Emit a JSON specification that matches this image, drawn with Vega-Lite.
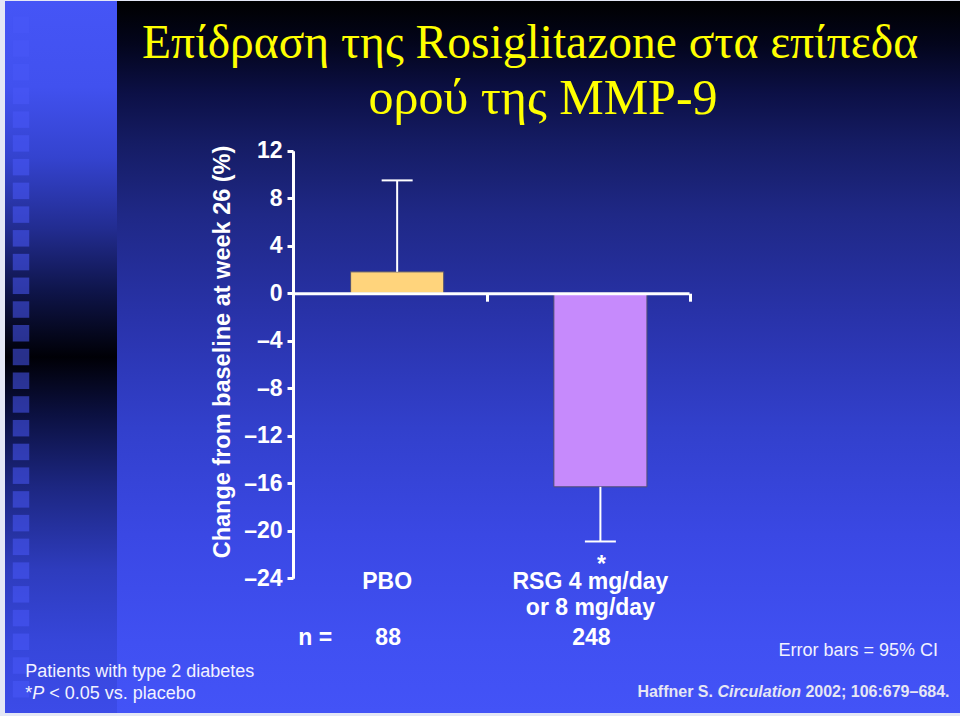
{
  "$schema": "https://vega.github.io/schema/vega-lite/v6.json",
  "padding": {"left": 5, "top": 1, "right": 0, "bottom": 3},
  "background": "#e4e7f6",
  "spacing": 0,
  "bounds": "flush",
  "config": {"font": "Liberation Sans", "view": {"stroke": null}, "axis": {"grid": false}},
  "datasets": {
    "bars": [
      {"group": "PBO", "label": "PBO", "mean": 1.8, "ci_end": 9.5, "n": "88", "sig": ""},
      {"group": "RSG", "label": "RSG 4 mg/day\nor 8 mg/day", "mean": -16.3, "ci_end": -20.9, "n": "248", "sig": "*"}
    ],
    "squares": [
      {"k": 1}, {"k": 2}, {"k": 3}, {"k": 4}, {"k": 5}, {"k": 6}, {"k": 7}, {"k": 8}, {"k": 9}, {"k": 10},
      {"k": 11}, {"k": 12}, {"k": 13}, {"k": 14}, {"k": 15}, {"k": 16}, {"k": 17}, {"k": 18}, {"k": 19}, {"k": 20},
      {"k": 21}, {"k": 22}, {"k": 23}, {"k": 24}, {"k": 25}, {"k": 26}, {"k": 27}, {"k": 28}, {"k": 29}
    ]
  },
  "hconcat": [
    {
      "width": 112,
      "height": 712,
      "view": {
        "stroke": null,
        "fill": {
          "gradient": "linear", "x1": 0, "y1": 0, "x2": 0, "y2": 1,
          "stops": [
            {"offset": 0, "color": "#4555f6"},
            {"offset": 0.12, "color": "#4151ef"},
            {"offset": 0.22, "color": "#3443cf"},
            {"offset": 0.32, "color": "#222c90"},
            {"offset": 0.41, "color": "#0e1448"},
            {"offset": 0.5, "color": "#000006"},
            {"offset": 0.58, "color": "#0b1040"},
            {"offset": 0.68, "color": "#1c2680"},
            {"offset": 0.8, "color": "#2e3cbe"},
            {"offset": 0.9, "color": "#3646da"},
            {"offset": 1, "color": "#3c4be8"}
          ]
        }
      },
      "data": {"name": "squares"},
      "mark": {"type": "square", "size": 272, "color": "#4858f8", "opacity": 0.55},
      "encoding": {
        "x": {"datum": 0, "type": "quantitative", "scale": {"domain": [-1, 6]}, "axis": null},
        "y": {"field": "k", "type": "ordinal", "scale": {"padding": 1}, "axis": null}
      }
    },
    {
      "width": 843,
      "height": 712,
      "view": {
        "stroke": null,
        "fill": {
          "gradient": "linear", "x1": 0, "y1": 0, "x2": 0, "y2": 1,
          "stops": [
            {"offset": 0, "color": "#000000"},
            {"offset": 0.06, "color": "#03051c"},
            {"offset": 0.13, "color": "#0c1046"},
            {"offset": 0.2, "color": "#151c64"},
            {"offset": 0.3, "color": "#1f2886"},
            {"offset": 0.45, "color": "#2933ab"},
            {"offset": 0.6, "color": "#3240cc"},
            {"offset": 0.75, "color": "#3a48e4"},
            {"offset": 0.9, "color": "#4050f2"},
            {"offset": 1, "color": "#4353f7"}
          ]
        }
      },
      "layer": [
        {
          "data": {"name": "bars"},
          "mark": {"type": "bar", "stroke": "#505070", "strokeWidth": 1},
          "encoding": {
            "x": {
              "field": "group", "type": "nominal",
              "scale": {"domain": ["PBO", "RSG"], "range": [176, 572], "paddingInner": 0.542, "paddingOuter": 0.2452, "align": 0.578},
              "axis": {
                "orient": "bottom", "offset": -419.8, "title": null, "labels": false,
                "domainColor": "white", "domainWidth": 3, "tickColor": "white", "tickWidth": 3, "tickSize": 8,
                "tickOffset": 90, "grid": false, "zindex": 1
              }
            },
            "y": {
              "field": "mean", "type": "quantitative",
              "scale": {"domain": [-24, 12], "range": [577.3, 149.7], "nice": false, "zero": false},
              "axis": {
                "orient": "left", "offset": -176,
                "values": [12, 8, 4, 0, -4, -8, -12, -16, -20, -24],
                "title": "Change from baseline at week 26 (%)",
                "titleFont": "Liberation Sans", "titleFontSize": 23.5, "titleFontWeight": "bold", "titleColor": "white",
                "titleX": -59, "titleY": 350.5,
                "domainColor": "white", "domainWidth": 3, "tickColor": "white", "tickWidth": 3, "tickSize": 6,
                "labelColor": "white", "labelFont": "Liberation Sans", "labelFontSize": 23, "labelFontWeight": "bold",
                "labelPadding": 5, "labelOverlap": false,
                "labelExpr": "datum.value < 0 ? '–' + abs(datum.value) : datum.label",
                "grid": false, "zindex": 1
              }
            },
            "y2": {"datum": 0},
            "color": {"field": "group", "type": "nominal", "scale": {"domain": ["PBO", "RSG"], "range": ["#FFD47C", "#C68AFC"]}, "legend": null}
          }
        },
        {
          "data": {"name": "bars"},
          "mark": {"type": "rule", "color": "white", "strokeWidth": 2},
          "encoding": {
            "x": {"field": "group", "type": "nominal"},
            "y": {"field": "mean", "type": "quantitative"},
            "y2": {"field": "ci_end"}
          }
        },
        {
          "data": {"name": "bars"},
          "mark": {"type": "tick", "color": "white", "size": 31, "thickness": 2, "orient": "horizontal", "opacity": 1},
          "encoding": {
            "x": {"field": "group", "type": "nominal"},
            "y": {"field": "ci_end", "type": "quantitative"}
          }
        },
        {
          "data": {"name": "bars"},
          "mark": {"type": "text", "color": "white", "fontSize": 23, "fontWeight": "bold", "baseline": "alphabetic", "align": "center", "lineBreak": "\n", "lineHeight": 26, "dx": -10},
          "encoding": {
            "x": {"field": "group", "type": "nominal"},
            "y": {"datum": -24.9, "type": "quantitative"},
            "text": {"field": "label"}
          }
        },
        {
          "data": {"name": "bars"},
          "mark": {"type": "text", "color": "white", "fontSize": 23, "fontWeight": "bold", "baseline": "alphabetic", "align": "center", "dx": -9},
          "encoding": {
            "x": {"field": "group", "type": "nominal"},
            "y": {"datum": -29.62, "type": "quantitative"},
            "text": {"field": "n"}
          }
        },
        {
          "data": {"name": "bars"},
          "mark": {"type": "text", "color": "white", "fontSize": 23, "fontWeight": "bold", "baseline": "alphabetic", "align": "center", "dx": 1},
          "encoding": {
            "x": {"field": "group", "type": "nominal"},
            "y": {"datum": -23.5, "type": "quantitative"},
            "text": {"field": "sig"}
          }
        },
        {
          "data": {"values": [{}]},
          "mark": {"type": "text", "text": "n =", "color": "white", "fontSize": 23, "fontWeight": "bold", "baseline": "alphabetic", "align": "center", "dx": -82},
          "encoding": {
            "x": {"datum": "PBO", "type": "nominal"},
            "y": {"datum": -29.62, "type": "quantitative"}
          }
        },
        {
          "data": {"values": [{}]},
          "mark": {"type": "text", "text": "Επίδραση της Rosiglitazone στα επίπεδα", "font": "Liberation Serif", "fontSize": 47.5, "color": "#FFFF00", "baseline": "alphabetic", "align": "center", "dx": -8.5},
          "encoding": {"y": {"datum": 19.8, "type": "quantitative"}}
        },
        {
          "data": {"values": [{}]},
          "mark": {"type": "text", "text": "ορού της MMP-9", "font": "Liberation Serif", "fontSize": 50, "color": "#FFFF00", "baseline": "alphabetic", "align": "center", "dx": 4.5},
          "encoding": {"y": {"datum": 15.09, "type": "quantitative"}}
        },
        {
          "data": {"values": [{}]},
          "mark": {"type": "text", "text": "Patients with type 2 diabetes", "color": "#f2f2ff", "fontSize": 18, "baseline": "alphabetic", "align": "left", "dx": -372},
          "encoding": {
            "x": {"datum": "PBO", "type": "nominal"},
            "y": {"datum": -32.31, "type": "quantitative"}
          }
        },
        {
          "data": {"values": [{}]},
          "mark": {"type": "text", "text": "*", "color": "#f2f2ff", "fontSize": 18, "baseline": "alphabetic", "align": "left", "dx": -372},
          "encoding": {
            "x": {"datum": "PBO", "type": "nominal"},
            "y": {"datum": -34.16, "type": "quantitative"}
          }
        },
        {
          "data": {"values": [{}]},
          "mark": {"type": "text", "text": "P", "color": "#f2f2ff", "fontSize": 18, "fontStyle": "italic", "baseline": "alphabetic", "align": "left", "dx": -365},
          "encoding": {
            "x": {"datum": "PBO", "type": "nominal"},
            "y": {"datum": -34.16, "type": "quantitative"}
          }
        },
        {
          "data": {"values": [{}]},
          "mark": {"type": "text", "text": "< 0.05 vs. placebo", "color": "#f2f2ff", "fontSize": 18, "baseline": "alphabetic", "align": "left", "dx": -348},
          "encoding": {
            "x": {"datum": "PBO", "type": "nominal"},
            "y": {"datum": -34.16, "type": "quantitative"}
          }
        },
        {
          "data": {"values": [{}]},
          "mark": {"type": "text", "text": "Error bars = 95% CI", "color": "#f2f2ff", "fontSize": 18, "baseline": "alphabetic", "align": "left", "dx": 178},
          "encoding": {
            "x": {"datum": "RSG", "type": "nominal"},
            "y": {"datum": -30.54, "type": "quantitative"}
          }
        },
        {
          "data": {"values": [{}]},
          "mark": {"type": "text", "text": "Haffner S.", "color": "#e6e6f4", "fontSize": 16, "fontWeight": "bold", "baseline": "alphabetic", "align": "left", "dx": 37},
          "encoding": {
            "x": {"datum": "RSG", "type": "nominal"},
            "y": {"datum": -33.99, "type": "quantitative"}
          }
        },
        {
          "data": {"values": [{}]},
          "mark": {"type": "text", "text": "Circulation", "color": "#e6e6f4", "fontSize": 16, "fontWeight": "bold", "fontStyle": "italic", "baseline": "alphabetic", "align": "left", "dx": 117},
          "encoding": {
            "x": {"datum": "RSG", "type": "nominal"},
            "y": {"datum": -33.99, "type": "quantitative"}
          }
        },
        {
          "data": {"values": [{}]},
          "mark": {"type": "text", "text": "2002; 106:679–684.", "color": "#e6e6f4", "fontSize": 16, "fontWeight": "bold", "baseline": "alphabetic", "align": "left", "dx": 205},
          "encoding": {
            "x": {"datum": "RSG", "type": "nominal"},
            "y": {"datum": -33.99, "type": "quantitative"}
          }
        }
      ]
    }
  ]
}
